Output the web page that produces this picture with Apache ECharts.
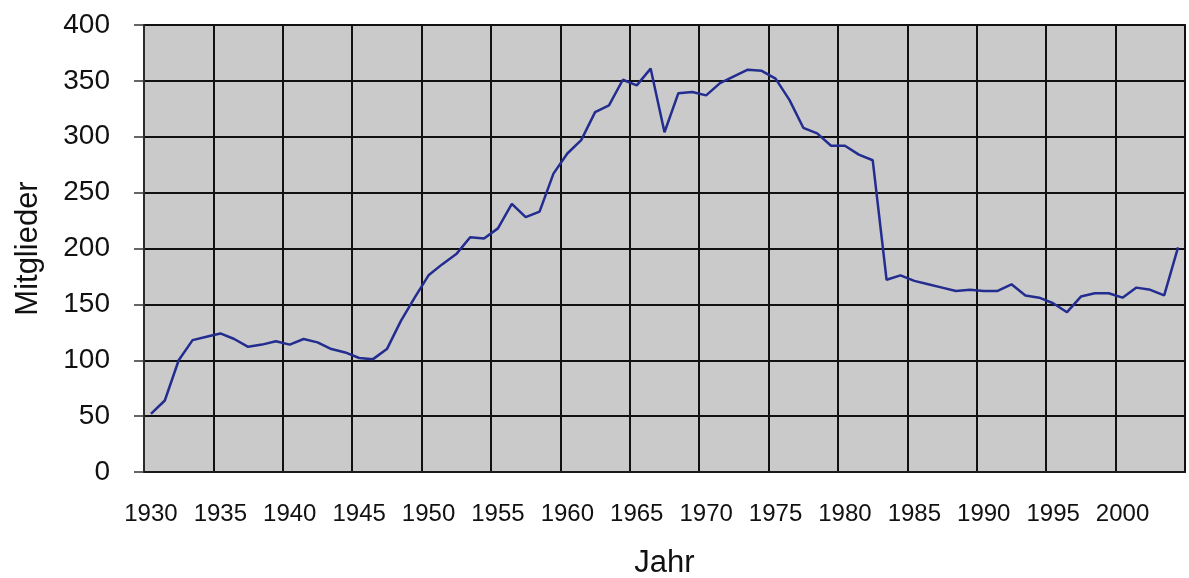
<!DOCTYPE html>
<html>
<head>
<meta charset="utf-8">
<script src="https://cdn.jsdelivr.net/npm/echarts@6/dist/echarts.min.js"></script>
<style>
  html, body { margin: 0; padding: 0; background: #fff; }
  #chart { width: 1189px; height: 578px; }
</style>
</head>
<body>
<div id="chart"></div>
<script>
// Jahre 1930 - 2004
const years = []
for (let y = 1930; y <= 2004; y++) years.push(String(y))

// Mitglieder pro Jahr
const members = [
  52, 64, 100, 118, 121, 124, 119, 112, 114, 117,
  114, 119, 116, 110, 107, 102, 101, 110, 135, 156,
  176, 186, 195, 210, 209, 218, 240, 228, 233, 267,
  285, 297, 322, 328, 351, 346, 361, 304, 339, 340,
  337, 348, 354, 360, 359, 352, 333, 308, 303, 292,
  292, 284, 279, 172, 176, 171, 168, 165, 162, 163,
  162, 162, 168, 158, 156, 151, 143, 157, 160, 160,
  156, 165, 163, 158, 201
]

const yTicks = { min: 0, max: 400, interval: 50 }

const chart = echarts.init(document.getElementById('chart'))
const font = 'Liberation Sans, Arial, sans-serif'

chart.setOption({
  animation: false,
  grid: {
    left: 144,
    right: 4,
    top: 25,
    bottom: 106,
    outerBoundsMode: 'none',
    containLabel: false,
    show: true,
    backgroundColor: '#cacaca',
    borderColor: '#151515',
    borderWidth: 1.8
  },
  xAxis: {
    type: 'category',
    data: years,
    boundaryGap: true,
    name: 'Jahr',
    nameLocation: 'middle',
    nameGap: 76,
    nameTextStyle: { fontFamily: font, fontSize: 31, color: '#111' },
    axisLine: { lineStyle: { color: '#1a1a1a', width: 1.8 } },
    axisTick: { interval: 4, length: 8, lineStyle: { color: '#1a1a1a', width: 1.5 } },
    axisLabel: { interval: 4, margin: 30, fontFamily: font, fontSize: 24, color: '#111' },
    splitLine: { show: true, interval: 4, lineStyle: { color: '#111', width: 2 } }
  },
  yAxis: {
    type: 'value',
    min: yTicks.min,
    max: yTicks.max,
    interval: yTicks.interval,
    name: 'Mitglieder',
    nameLocation: 'middle',
    nameGap: 100,
    nameTextStyle: { fontFamily: font, fontSize: 31, color: '#111' },
    axisLine: { show: true, lineStyle: { color: '#333', width: 1.5 } },
    axisTick: { show: true, length: 10, lineStyle: { color: '#333', width: 1.5 } },
    axisLabel: { margin: 34, fontFamily: font, fontSize: 28, color: '#111' },
    splitLine: { show: true, lineStyle: { color: '#111', width: 2 } }
  },
  series: [
    {
      type: 'line',
      data: members,
      symbol: 'none',
      lineStyle: { color: '#232c8f', width: 2.5 }
    }
  ]
})
</script>
</body>
</html>
